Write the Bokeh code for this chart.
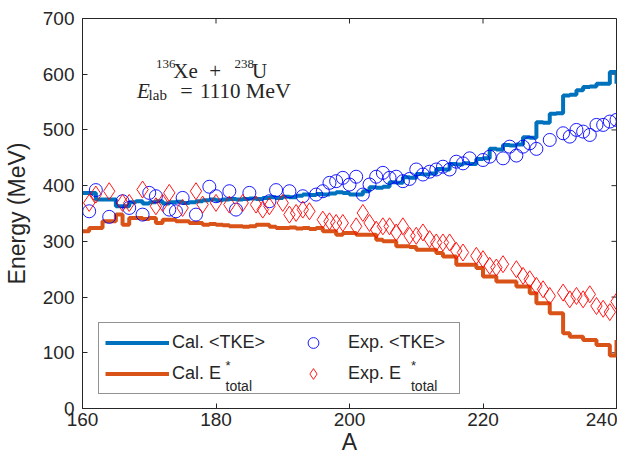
from bokeh.plotting import figure
from bokeh.models import Range1d, Legend, LegendItem, Label, FixedTicker
from bokeh.embed import file_html
from bokeh.resources import INLINE

# ---- data ----
A_cal = list(range(160, 241))
cal_tke = [387, 387, 375, 375, 375, 363, 363, 370, 372, 368,
           370, 372, 368, 370, 371, 369, 370, 372, 374, 375,
           374, 375, 376, 375, 376, 377, 376, 378, 379, 378,
           380, 379, 382, 384, 383, 385, 384, 386, 388, 387,
           384, 384, 390, 397, 396, 398, 406, 405, 415, 414,
           421, 420, 422, 430, 429, 439, 438, 440, 439, 448,
           449, 466, 465, 473, 472, 474, 487, 486, 514, 513,
           529, 530, 562, 563, 571, 577, 578, 583, 583, 604,
           583]
cal_estar = [318, 324, 324, 336, 336, 348, 330, 342, 342, 340,
             342, 333, 339, 339, 336, 336, 333, 333, 330, 331,
             330, 329, 327, 327, 326, 327, 330, 330, 326, 324,
             324, 325, 323, 324, 322, 324, 318, 318, 312, 315,
             315, 312, 312, 312, 303, 300, 300, 291, 291, 290,
             285, 285, 285, 279, 273, 273, 258, 258, 258, 252,
             237, 237, 228, 228, 228, 219, 219, 207, 189, 189,
             171, 171, 135, 129, 129, 123, 123, 114, 114, 95,
             123]

exp_tke_A = [161, 162, 164, 166, 167, 169, 170, 171, 173, 174,
             175, 177, 179, 180, 182, 183, 185, 188, 189, 191,
             193, 195, 196, 197, 198, 199, 200, 201, 202, 203,
             204, 205, 206, 207, 208, 209, 210, 211, 212, 213,
             214, 215, 216, 217, 218, 220, 221, 223, 224, 225,
             226, 227, 228, 230, 232, 233, 234, 235, 236, 237,
             238, 239, 240]
exp_tke = [354, 392, 344, 372, 360, 348, 387, 381, 357, 354,
           378, 348, 398, 381, 390, 357, 387, 372, 392, 390,
           381, 384, 390, 405, 408, 414, 402, 416, 384, 402,
           416, 423, 414, 416, 408, 412, 429, 420, 425, 429,
           434, 429, 443, 440, 449, 446, 452, 449, 470, 454,
           470, 476, 466, 482, 494, 488, 500, 497, 491, 509,
           509, 515, 518]

exp_e_A = [161, 162, 164, 166, 167, 169, 171, 172, 173, 175,
           177, 178, 180, 182, 184, 186, 187, 188, 190, 191,
           192, 193, 194, 196, 197, 198, 199, 201, 202, 203,
           204, 205, 206, 207, 208, 209, 210, 211, 212, 213,
           214, 215, 216, 217, 219, 220, 221, 222, 223, 225,
           226, 227, 228, 229, 230, 232, 233, 234, 235, 236,
           237, 238, 239, 240]
exp_e = [369, 384, 390, 369, 369, 393, 363, 369, 387, 360,
         390, 366, 369, 366, 369, 366, 357, 363, 369, 348,
         351, 357, 354, 339, 336, 333, 333, 327, 351, 333,
         321, 327, 327, 316, 327, 310, 310, 316, 304, 298,
         298, 298, 283, 280, 274, 268, 256, 253, 259, 250,
         238, 232, 220, 214, 202, 208, 196, 202, 196, 205,
         184, 179, 173, 192]

x_ticks = [160, 180, 200, 220, 240]
y_ticks = [0, 100, 200, 300, 400, 500, 600, 700]
X_MIN, X_MAX, Y_MIN, Y_MAX = 160, 240, 0, 700

TXT = "#262626"
FONT = "Liberation Sans"

p = figure(width=617, height=457, output_backend="svg", toolbar_location=None,
           x_range=Range1d(X_MIN, X_MAX), y_range=Range1d(Y_MIN, Y_MAX),
           min_border_left=82, min_border_right=1, min_border_top=18,
           min_border_bottom=48, background_fill_color="white",
           border_fill_color="white")
p.xgrid.visible = False
p.ygrid.visible = False
p.outline_line_color = TXT
p.outline_line_width = 1

for ax in (p.xaxis[0], p.yaxis[0]):
    ax.major_tick_in = 5
    ax.major_tick_out = 0
    ax.minor_tick_line_color = None
    ax.axis_line_color = TXT
    ax.major_tick_line_color = TXT
    ax.major_label_text_color = TXT
    ax.major_label_text_font = FONT
    ax.major_label_text_font_size = "19px"
    ax.axis_label_text_font = FONT
    ax.axis_label_text_font_size = "23px"
    ax.axis_label_text_font_style = "normal"
    ax.axis_label_text_color = TXT

p.xaxis.ticker = FixedTicker(ticks=x_ticks)
p.yaxis.ticker = FixedTicker(ticks=y_ticks)
p.xaxis.axis_label = "A"
p.yaxis.axis_label = "Energy (MeV)"
p.xaxis.major_label_standoff = 4
p.xaxis.axis_label_standoff = 0
p.yaxis.major_label_standoff = 8
p.yaxis.axis_label_standoff = 10

# inward ticks on the top and right edges of the box (tick length ~5 px)
p.segment(x0=x_ticks, y0=[Y_MAX] * len(x_ticks), x1=x_ticks,
          y1=[Y_MAX - 9] * len(x_ticks), line_color=TXT, line_width=1)
p.segment(x0=[X_MAX] * len(y_ticks), y0=y_ticks, x1=[X_MAX - 0.75] * len(y_ticks),
          y1=y_ticks, line_color=TXT, line_width=1)

r1 = p.step(A_cal, cal_tke, mode="after", line_width=4, line_color="#0072BD")
r2 = p.step(A_cal, cal_estar, mode="after", line_width=4, line_color="#D95319")
r3 = p.scatter(exp_tke_A, exp_tke, marker="circle", size=13, fill_color=None,
               line_color="#0000FF", line_width=0.9)
r4 = p.scatter(exp_e_A, exp_e, marker="diamond", size=17, fill_color=None,
               line_color="#FF0000", line_width=0.9)

legend = Legend(items=[LegendItem(label="Cal. <TKE>", renderers=[r1]),
                       LegendItem(label="Cal. E", renderers=[r2]),
                       LegendItem(label="Exp. <TKE>", renderers=[r3]),
                       LegendItem(label="Exp. E", renderers=[r4])],
                ncols=2, orientation="vertical", location=(16, 14), margin=0,
                padding=6, spacing=4, glyph_width=64, glyph_height=27,
                label_height=27, label_width=105, label_standoff=3,
                label_text_font=FONT, label_text_font_size="18px",
                label_text_color=TXT, border_line_color=TXT, border_line_width=1,
                background_fill_alpha=0)
p.add_layout(legend, "center")

def lab(x, y, t, size, font="Liberation Serif", style="normal", color=TXT):
    p.add_layout(Label(x=x, y=y, text=t, text_font=font, text_font_size=size,
                       text_font_style=style, text_color=color, level="overlay",
                       text_baseline="alphabetic", text_align="left"))

# annotation
lab(171.0, 618.8, "136", "13px")
lab(173.6, 606.2, "Xe", "21px")
lab(179.0, 606.2, "+", "21px")
lab(182.79, 618.8, "238", "13px")
lab(185.4, 606.2, "U", "21px")
lab(168.15, 570.1, "E", "21px", style="italic")
lab(169.9, 562.9, "lab", "15px")
lab(174.64, 570.1, "=", "22px")
lab(177.6, 570.1, "1110", "21px")
lab(184.45, 570.1, "MeV", "22px")

# legend super/subscripts
for xa in (181.43, 209.21):
    lab(xa, 76.5, "*", "13px", font=FONT)
    lab(xa, 40.5, "total", "14px", font=FONT)

open("out.html", "w").write(file_html(p, INLINE))
